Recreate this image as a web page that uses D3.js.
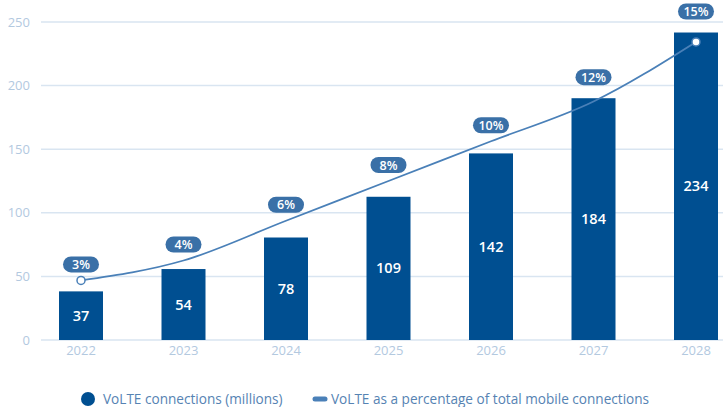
<!DOCTYPE html>
<html>
<head>
<meta charset="utf-8">
<script src="https://cdn.jsdelivr.net/npm/d3@7"></script>
<style>
  body { margin: 0; background: #fff; }
  svg { display: block; font-family: "Open Sans", "Noto Sans", sans-serif; }
</style>
</head>
<body>
<svg id="chart" width="723" height="407"></svg>
<script>
var years = ["2022", "2023", "2024", "2025", "2026", "2027", "2028"];
var connections = [37, 54, 78, 109, 142, 184, 234];   // millions
var percentage = [3, 4, 6, 8, 10, 12, 15];             // % of total mobile connections
var yTicks = [0, 50, 100, 150, 200, 250];

var barColor = "#004f91",
  lineColor = "#4a80b8",
  pillColor = "#3a70a7",
  axisText = "#b3c9df",
  gridColor = "#d9e5f1",
  legendText = "#5683b3";

var svg = d3.select("#chart");

var x = d3.scalePoint().domain(years).range([81, 696]);
var y = d3.scaleLinear().domain([0, 250]).range([340, 22]);
// bars in the source are drawn a touch taller than the axis suggests
var yBar = d3.scaleLinear().domain([0, 242]).range([340, 22]);
var yPct = d3.scaleLinear().domain([0, 16]).range([340, 22]);
var barW = 44;

// gridlines + y labels
var grid = svg.append("g");
grid.selectAll("line").data(yTicks).enter().append("line")
  .attr("x1", 41).attr("x2", 723)
  .attr("y1", function(d) { return y(d); })
  .attr("y2", function(d) { return y(d); })
  .attr("stroke", gridColor).attr("stroke-width", 1.5);
grid.selectAll("text").data(yTicks).enter().append("text")
  .attr("x", 30).attr("y", function(d) { return y(d) + 4.5; })
  .attr("text-anchor", "end")
  .attr("fill", axisText).attr("font-size", 13)
  .text(function(d) { return d; });

// x labels
svg.append("g").selectAll("text").data(years).enter().append("text")
  .attr("x", function(d) { return x(d); }).attr("y", 355)
  .attr("text-anchor", "middle")
  .attr("fill", axisText).attr("font-size", 13)
  .text(function(d) { return d; });

// bars
var bars = svg.append("g");
bars.selectAll("rect").data(connections).enter().append("rect")
  .attr("x", function(d, i) { return x(years[i]) - barW / 2; })
  .attr("y", function(d) { return yBar(d); })
  .attr("width", barW)
  .attr("height", function(d) { return yBar(0) - yBar(d); })
  .attr("fill", barColor);
bars.selectAll("text").data(connections).enter().append("text")
  .attr("x", function(d, i) { return x(years[i]); })
  .attr("y", function(d) { return (yBar(d) + yBar(0)) / 2 + 5; })
  .attr("text-anchor", "middle")
  .attr("fill", "#fff").attr("font-size", 14.5).attr("font-weight", 600)
  .text(function(d) { return d; });

// percentage line
var line = d3.line()
  .x(function(d, i) { return x(years[i]); })
  .y(function(d) { return yPct(d); })
  .curve(d3.curveMonotoneX);
svg.append("path").datum(percentage)
  .attr("d", line)
  .attr("fill", "none").attr("stroke", lineColor).attr("stroke-width", 1.8);

var ends = [0, percentage.length - 1];
svg.selectAll(".endpt").data(ends).enter().append("circle")
  .attr("class", "endpt")
  .attr("cx", function(i) { return x(years[i]); })
  .attr("cy", function(i) { return yPct(percentage[i]); })
  .attr("r", 4)
  .attr("fill", "#fff").attr("stroke", lineColor).attr("stroke-width", 1.5);

// pills
var pills = svg.append("g").selectAll("g").data(percentage).enter().append("g")
  .attr("transform", function(d, i) {
    var cy = Math.min(yPct(d) - 16, yBar(connections[i]) - 21);
    return "translate(" + x(years[i]) + "," + cy + ")";
  });
pills.append("rect")
  .attr("x", -18).attr("y", -8).attr("width", 36).attr("height", 16)
  .attr("rx", 8).attr("fill", pillColor);
pills.append("text")
  .attr("text-anchor", "middle").attr("y", 4.5)
  .attr("fill", "#fff").attr("font-size", 12.5).attr("font-weight", 600)
  .text(function(d) { return d + "%"; });

// legend
var lg = svg.append("g");
lg.append("circle").attr("cx", 88).attr("cy", 399).attr("r", 7).attr("fill", barColor);
lg.append("text").attr("x", 103).attr("y", 403.5)
  .attr("fill", legendText).attr("font-size", 13.6)
  .text("VoLTE connections (millions)");
lg.append("line").attr("x1", 315).attr("x2", 325).attr("y1", 399).attr("y2", 399)
  .attr("stroke", lineColor).attr("stroke-width", 5).attr("stroke-linecap", "round");
lg.append("text").attr("x", 331).attr("y", 403.5)
  .attr("fill", legendText).attr("font-size", 13.6)
  .text("VoLTE as a percentage of total mobile connections");
</script>
</body>
</html>
